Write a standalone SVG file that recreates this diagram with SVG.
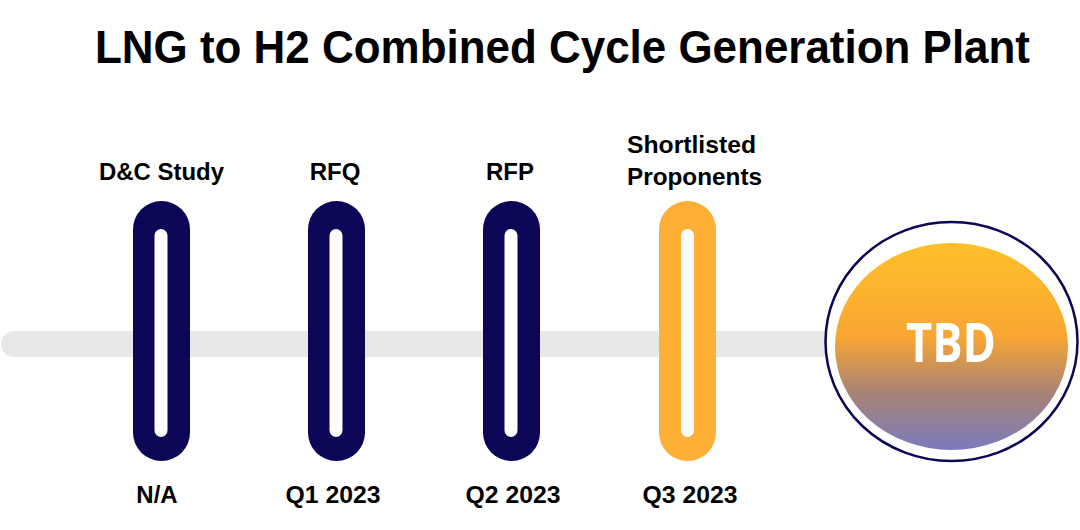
<svg xmlns="http://www.w3.org/2000/svg" width="1080" height="530" viewBox="0 0 1080 530">
  <style>
    .title { font-family: "Liberation Sans", Arial, sans-serif; font-weight: bold; font-size: 46px; fill: #000; }
    .lbl { font-family: "Liberation Sans", Arial, sans-serif; font-weight: bold; font-size: 24px; fill: #000; text-anchor: middle; }
    .pill-navy { fill: #0C0656; }
    .pill-orange { fill: #FEAF36; }
    .slot { fill: #FFFFFF; }
    .tbd { font-family: "Open Sans", "Liberation Sans", sans-serif; font-weight: bold; font-size: 54px; fill: #FFFFFF; text-anchor: middle; }
  </style>
  <defs>
    <linearGradient id="tbdGrad" x1="0" y1="0" x2="0" y2="1">
      <stop offset="0" stop-color="#FEC02A"/>
      <stop offset="0.45" stop-color="#F9A632"/>
      <stop offset="0.72" stop-color="#A88375"/>
      <stop offset="1" stop-color="#7B7ABF"/>
    </linearGradient>
  </defs>
  <rect width="1080" height="530" fill="#FFFFFF"/>
  <text class="title" x="562.5" y="63" text-anchor="middle" textLength="935" lengthAdjust="spacingAndGlyphs">LNG to H2 Combined Cycle Generation Plant</text>

  <g id="connectors">
    <rect x="1" y="331" width="845" height="26" rx="13" fill="#E8E8E8"/>
  </g>

  <g id="node-dc-study">
    <rect class="pill-navy" x="133" y="201" width="57" height="260" rx="28.5"/>
    <rect class="slot" x="154.5" y="229" width="13" height="208" rx="6.5"/>
    <text class="lbl" x="161.5" y="180" textLength="125" lengthAdjust="spacingAndGlyphs">D&amp;C Study</text>
    <text class="lbl" x="157" y="503">N/A</text>
  </g>

  <g id="node-rfq">
    <rect class="pill-navy" x="308" y="201" width="57" height="260" rx="28.5"/>
    <rect class="slot" x="329.5" y="229" width="13" height="208" rx="6.5"/>
    <text class="lbl" x="335" y="180">RFQ</text>
    <text class="lbl" x="333" y="503" textLength="95" lengthAdjust="spacingAndGlyphs">Q1 2023</text>
  </g>

  <g id="node-rfp">
    <rect class="pill-navy" x="483" y="201" width="57" height="260" rx="28.5"/>
    <rect class="slot" x="504.5" y="229" width="13" height="208" rx="6.5"/>
    <text class="lbl" x="510" y="180">RFP</text>
    <text class="lbl" x="513" y="503" textLength="95" lengthAdjust="spacingAndGlyphs">Q2 2023</text>
  </g>

  <g id="node-shortlisted">
    <rect class="pill-orange" x="659" y="201" width="57" height="260" rx="28.5"/>
    <rect class="slot" x="681" y="229" width="13" height="208" rx="6.5"/>
    <text class="lbl" x="691.5" y="153" textLength="129" lengthAdjust="spacingAndGlyphs">Shortlisted</text>
    <text class="lbl" x="694.5" y="185" textLength="135" lengthAdjust="spacingAndGlyphs">Proponents</text>
    <text class="lbl" x="690" y="503" textLength="95" lengthAdjust="spacingAndGlyphs">Q3 2023</text>
  </g>

  <g id="node-tbd">
    <ellipse cx="951.5" cy="341.5" rx="126" ry="119.5" fill="#FFFFFF" stroke="#0C0656" stroke-width="2.5"/>
    <ellipse cx="951.5" cy="346.5" rx="116.5" ry="103.5" fill="url(#tbdGrad)"/>
    <text class="tbd" x="951" y="362" textLength="90" lengthAdjust="spacingAndGlyphs">TBD</text>
  </g>
</svg>
